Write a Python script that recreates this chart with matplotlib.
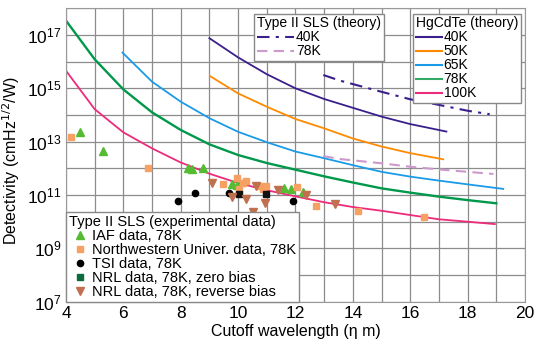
import numpy as np
import matplotlib
matplotlib.use("Agg")
import matplotlib.pyplot as plt
from matplotlib.lines import Line2D

plt.rcParams['font.family'] = ['Liberation Sans', 'DejaVu Sans']

# HgCdTe theory curves: cutoff wavelength (um) and log10 detectivity
hg40_x = [9.0, 10, 11, 12, 13, 14, 15, 16, 17.26]
hg40_y = [16.88, 16.16, 15.53, 15.0, 14.6, 14.27, 13.94, 13.66, 13.38]
hg50_x = [9.02, 10, 11, 12, 13, 14, 15, 16, 17.15]
hg50_y = [15.46, 14.81, 14.31, 13.85, 13.5, 13.12, 12.82, 12.57, 12.34]
hg65_x = [5.97, 7, 8, 9, 10, 11, 12, 13, 14, 15, 16, 17, 18, 19.24]
hg65_y = [16.34, 15.25, 14.5, 13.88, 13.37, 12.98, 12.63, 12.38, 12.12, 11.87, 11.69, 11.54, 11.4, 11.23]
hg78_x = [4, 5, 6, 7, 8, 9, 10, 11, 12, 13, 14, 15, 16, 17, 18, 19]
hg78_y = [17.54, 16.09, 14.96, 14.1, 13.44, 12.9, 12.5, 12.2, 11.95, 11.7, 11.47, 11.25, 11.09, 10.94, 10.81, 10.69]
hg100_x = [4, 5, 6, 7, 8, 9, 10, 11, 12, 13, 14, 15, 16, 17, 18, 18.95]
hg100_y = [15.66, 14.22, 13.35, 12.75, 12.22, 11.8, 11.45, 11.18, 10.95, 10.73, 10.55, 10.41, 10.25, 10.09, 10.0, 9.91]

# Type II SLS theory
sls40_x = [12.97, 13.55, 15, 16, 17, 18, 18.77]
sls40_y = [15.5, 15.29, 14.87, 14.59, 14.38, 14.16, 14.03]
sls78_x = [12.97, 13.55, 15, 16, 17, 18, 18.9]
sls78_y = [12.46, 12.35, 12.19, 12.06, 11.96, 11.87, 11.79]

# experimental data
iaf_x = [4.49, 5.28, 8.26, 8.4, 8.78, 9.77, 9.95, 11.6, 11.86, 12.27]
iaf_y = [13.37, 12.65, 12.02, 11.99, 12.02, 11.41, 11.38, 11.25, 11.21, 11.12]
nw_x = [4.16, 6.87, 9.46, 9.97, 10.03, 10.18, 10.27, 10.78, 10.87, 10.97, 12.04, 12.73, 14.18, 16.47]
nw_y = [13.19, 12.0, 11.4, 11.63, 11.21, 11.44, 11.54, 11.34, 11.21, 11.34, 11.29, 10.59, 10.41, 10.16]
tsi_x = [7.9, 8.49, 9.69, 11.9]
tsi_y = [10.78, 11.08, 11.09, 10.79]
nrl0_x = [10.04, 10.97]
nrl0_y = [11.03, 11.03]
nrlr_x = [9.08, 9.77, 10.28, 10.53, 10.62, 10.93, 11.4, 12.37, 13.37]
nrlr_y = [11.44, 10.91, 10.84, 10.36, 11.33, 10.69, 11.17, 10.99, 10.68]

c40 = '#3a1f8c'
c50 = '#ff8a00'
c65 = '#1a9be8'
c78 = '#00984a'
c100 = '#ee2a7b'
csls78 = '#cc99cc'
c_iaf = '#55bb33'
c_nw = '#f7a064'
c_nrlr = '#c0704f'

fig = plt.figure(figsize=(5.39, 3.47), dpi=100)
ax = fig.add_axes([0.1224, 0.1305, 0.8516, 0.8455])

ax.plot(hg40_x, 10**np.array(hg40_y), color=c40, lw=1.3)
ax.plot(hg50_x, 10**np.array(hg50_y), color=c50, lw=1.3)
ax.plot(hg65_x, 10**np.array(hg65_y), color=c65, lw=1.3)
ax.plot(hg78_x, 10**np.array(hg78_y), color=c78, lw=1.7)
ax.plot(hg100_x, 10**np.array(hg100_y), color=c100, lw=1.3)
ax.plot(sls40_x, 10**np.array(sls40_y), color=c40, lw=1.5, dashes=(6, 3, 1.5, 3))
ax.plot(sls78_x, 10**np.array(sls78_y), color=csls78, lw=1.5, dashes=(5, 3))

ax.plot(iaf_x, 10**np.array(iaf_y), ls='none', marker='^', ms=6, color=c_iaf)
ax.plot(nw_x, 10**np.array(nw_y), ls='none', marker='s', ms=4.5, color=c_nw)
ax.plot(tsi_x, 10**np.array(tsi_y), ls='none', marker='o', ms=4.5, color='black')
ax.plot(nrl0_x, 10**np.array(nrl0_y), ls='none', marker='s', ms=4.5, color='#111111')
ax.plot(nrlr_x, 10**np.array(nrlr_y), ls='none', marker='v', ms=6, color=c_nrlr)

ax.set_yscale('log')
ax.set_xlim(4, 20)
ax.set_ylim(1e7, 1e18)
ax.set_xticks(range(4, 21))
ax.set_xticklabels([str(v) if v % 2 == 0 else '' for v in range(4, 21)])
decades = list(range(7, 19))
ax.set_yticks([10.0**k for k in decades])
ax.set_yticklabels(['$\\mathregular{10^{%d}}$' % k if k % 2 == 1 else '' for k in decades])
ax.yaxis.set_minor_locator(matplotlib.ticker.NullLocator())
ax.tick_params(length=0, labelsize=12.5, pad=3)
ax.grid(True, color='#8c8c8c', lw=0.9)
ax.set_axisbelow(True)
for s in ax.spines.values():
    s.set_color('#999999')

ax.set_xlabel('Cutoff wavelength (η m)', fontsize=11.5, labelpad=2)
ax.set_ylabel('Detectivity (cmHz$^{1/2}$/W)', fontsize=11.5)
ax.yaxis.set_label_coords(-0.095, 0.48)

leg_kw = dict(frameon=True, fancybox=False, framealpha=1, edgecolor='#888888',
              borderpad=0.2, handletextpad=0.1, borderaxespad=0, alignment='left',
              labelspacing=0.0)

h1 = [Line2D([], [], color=c40, lw=1.5, dashes=(6, 3, 1.5, 3)),
      Line2D([], [], color=csls78, lw=1.5, dashes=(5, 3))]
leg1 = ax.legend(h1, ['40K', '78K'], title='Type II SLS (theory)', loc='upper left',
                 bbox_to_anchor=(0.41, 0.982), handlelength=2.7, fontsize=10,
                 title_fontsize=10, **leg_kw)
ax.add_artist(leg1)

h2 = [Line2D([], [], color=c, lw=1.5) for c in [c40, c50, c65, '#33aa66', c100]]
leg2 = ax.legend(h2, ['40K', '50K', '65K', '78K', '100K'], title='HgCdTe (theory)',
                 loc='upper left', bbox_to_anchor=(0.756, 0.982), handlelength=1.9,
                 fontsize=10, title_fontsize=10, **leg_kw)
ax.add_artist(leg2)

h3 = [Line2D([], [], ls='none', marker='^', ms=6, color=c_iaf),
      Line2D([], [], ls='none', marker='s', ms=4.5, color=c_nw),
      Line2D([], [], ls='none', marker='o', ms=4.5, color='black'),
      Line2D([], [], ls='none', marker='s', ms=4.5, color='#0b6b3a'),
      Line2D([], [], ls='none', marker='v', ms=6, color=c_nrlr)]
ax.legend(h3, ['IAF data, 78K', 'Northwestern Univer. data, 78K', 'TSI data, 78K',
               'NRL data, 78K, zero bias', 'NRL data, 78K, reverse bias'],
          title='Type II SLS (experimental data)', loc='lower left',
          bbox_to_anchor=(0, 0), handlelength=1.5, fontsize=10.5,
          title_fontsize=10.5, **leg_kw)

fig.savefig('out.png', dpi=100)
